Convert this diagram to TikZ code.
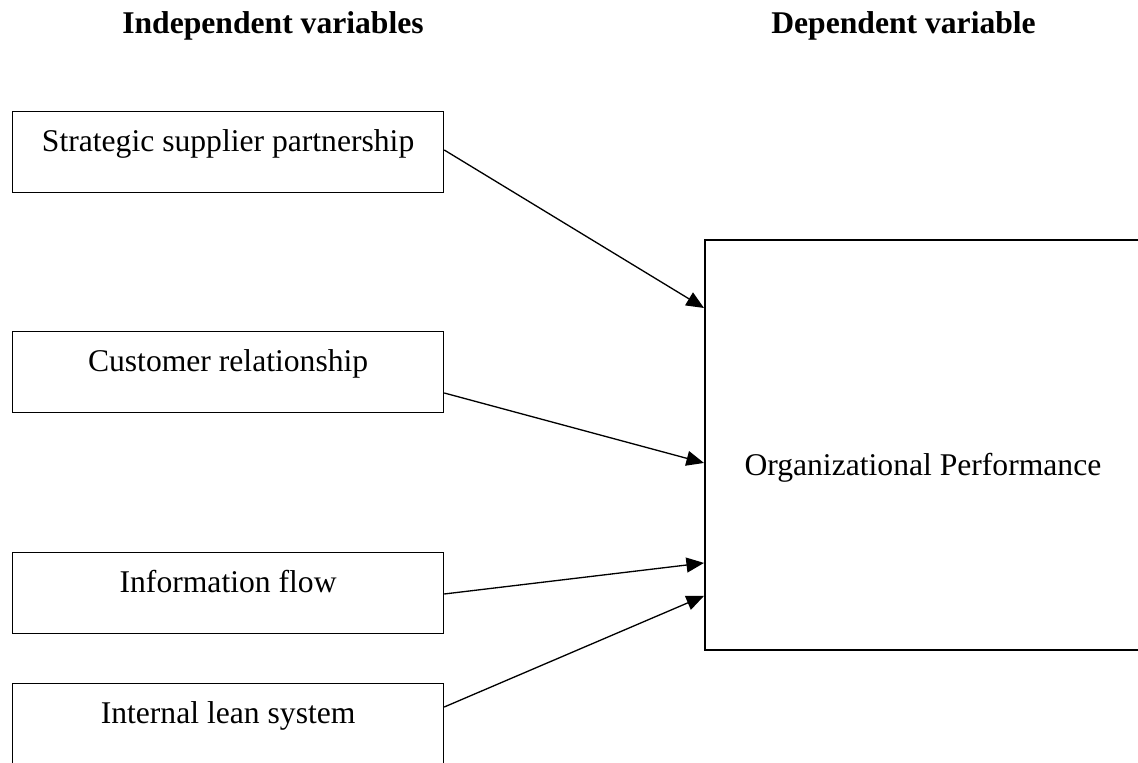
\documentclass[tikz,border=0pt]{standalone}
\usepackage{fontspec}
\setmainfont{Liberation Serif}
\usetikzlibrary{arrows.meta}
\tikzset{
	varbox/.style={draw,line width=0.75pt,inner sep=0pt,anchor=north west,
		minimum width=8.62cm,minimum height=1.62cm,text height=0.80cm,text depth=0.82cm},
	perfbox/.style={draw,line width=1.1pt,inner sep=0pt,anchor=north west,
		minimum width=8.72cm,minimum height=8.2cm,text height=4.72cm,text depth=3.48cm},
	heading/.style={anchor=base west,inner sep=0pt,font=\fontsize{18}{21.6}\selectfont\bfseries}
}
\begin{document}
\begin{tikzpicture}[x=0.02cm,y=-0.02cm,line join=miter,>={Triangle[length=10pt,width=8.5pt]},font=\fontsize{18}{21.6}\selectfont]
			\useasboundingbox (0,0) rectangle (1138,763);
			\clip (0,0) rectangle (1138,763);
			\node[heading] (hind) at (122,34) {Independent variables};
			\node[heading] (hdep) at (771,34) {Dependent variable};
			\node[varbox] (ssp) at (12,111) {Strategic supplier partnership};
			\node[varbox] (cr) at (12,331) {Customer relationship};
			\node[varbox] (inf) at (12,552) {Information flow};
			\node[varbox] (ils) at (12,683) {Internal lean system};
			\node[perfbox] (perf) at (704,239) {Organizational Performance};
			\foreach \a/\da/\db in {ssp/0.78/1.38,cr/1.24/4.48,inf/0.84/6.48,ils/0.48/7.14}{\draw[->,line width=0.75pt]
				([yshift=-\da cm]\a.north east)--([yshift=-\db cm]perf.north west);}
	\end{tikzpicture}
\end{document}
